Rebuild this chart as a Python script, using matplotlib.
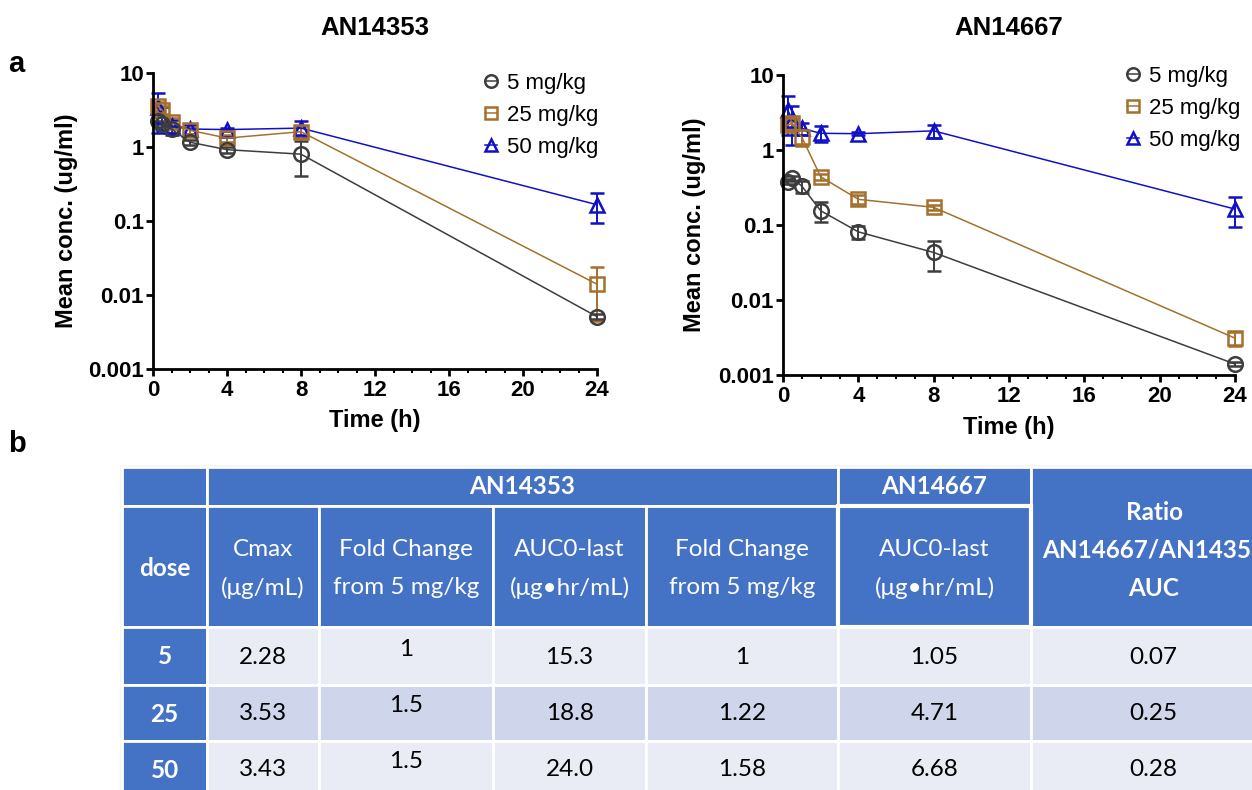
import numpy as np
import matplotlib
matplotlib.use('Agg')
import matplotlib.pyplot as plt
from matplotlib.lines import Line2D
from matplotlib.patches import Rectangle

plt.rcParams['font.family'] = ['Liberation Sans', 'DejaVu Sans']

# sampling times (h)
time_h = [0.25, 0.5, 1, 2, 4, 8, 24]
doses = ['5 mg/kg', '25 mg/kg', '50 mg/kg']

# AN14353 mean conc. (ug/ml) and SD
an14353_mean = {
    '5 mg/kg': [2.28, 2.04, 1.75, 1.16, 0.92, 0.80, 0.0051],
    '25 mg/kg': [3.53, 3.15, 2.15, 1.68, 1.32, 1.61, 0.014],
    '50 mg/kg': [3.43, 2.6, 1.9, 1.75, 1.72, 1.8, 0.166],
}
an14353_sd = {
    '5 mg/kg': [0.25, 0.2, 0.2, 0.1, 0.08, 0.4, 0.0004],
    '25 mg/kg': [0.5, 0.4, 0.3, 0.2, 0.15, 0.3, 0.0096],
    '50 mg/kg': [1.9, 0.9, 0.45, 0.25, 0.1, 0.45, 0.072],
}

# AN14667 mean conc. (ug/ml) and SD
an14667_mean = {
    '5 mg/kg': [0.38, 0.42, 0.33, 0.155, 0.081, 0.043, 0.0014],
    '25 mg/kg': [2.15, 2.27, 1.48, 0.44, 0.22, 0.172, 0.0031],
    '50 mg/kg': [3.42, 2.5, 1.94, 1.67, 1.65, 1.8, 0.163],
}
an14667_sd = {
    '5 mg/kg': [0.03, 0.03, 0.06, 0.045, 0.016, 0.019, 0.0001],
    '25 mg/kg': [0.3, 0.3, 0.35, 0.04, 0.03, 0.015, 0.0007],
    '50 mg/kg': [1.85, 1.35, 0.35, 0.4, 0.08, 0.35, 0.07],
}

colors = {'5 mg/kg': '#3d3d3d', '25 mg/kg': '#a5702c', '50 mg/kg': '#1010c8'}
markers = {'5 mg/kg': 'o', '25 mg/kg': 's', '50 mg/kg': '^'}

# table b
tab_dose = ['5', '25', '50']
tab_cmax = ['2.28', '3.53', '3.43']
tab_fold_cmax = ['1', '1.5', '1.5']
tab_auc_353 = ['15.3', '18.8', '24.0']
tab_fold_auc = ['1', '1.22', '1.58']
tab_auc_667 = ['1.05', '4.71', '6.68']
tab_ratio = ['0.07', '0.25', '0.28']

W, H = 1252, 790
fig = plt.figure(figsize=(W / 100, H / 100), dpi=100)


def rect(x0, x1, ytop, ybot):
    return [x0 / W, 1 - ybot / H, (x1 - x0) / W, (ybot - ytop) / H]


def draw_panel(ax, means, sds, title, title_x):
    for d in ['50 mg/kg', '25 mg/kg', '5 mg/kg']:
        c = colors[d]
        ms = 10 if markers[d] == 's' else 10.5
        eb = ax.errorbar(time_h, means[d], yerr=sds[d], color=c, marker=markers[d],
                         ms=ms, mfc='none', mec=c, mew=1.8, lw=1.1,
                         elinewidth=1.4, capsize=5, capthick=1.4)
        for art in eb.get_children():
            art.set_clip_on(False)
    ax.set_yscale('log')
    ax.set_ylim(0.001, 10)
    ax.set_xlim(0, 24)
    ax.set_xticks([0, 4, 8, 12, 16, 20, 24])
    ax.set_xticks(np.arange(0, 25, 1), minor=True)
    ax.set_yticks([0.001, 0.01, 0.1, 1, 10])
    ax.set_yticklabels(['0.001', '0.01', '0.1', '1', '10'])
    ax.yaxis.set_minor_locator(matplotlib.ticker.NullLocator())
    for s in ['top', 'right']:
        ax.spines[s].set_visible(False)
    ax.spines['left'].set_linewidth(2)
    ax.spines['bottom'].set_linewidth(2)
    ax.tick_params(which='major', length=5, width=2, labelsize=16)
    ax.tick_params(axis='y', pad=1.5)
    ax.tick_params(axis='x', pad=3)
    ax.tick_params(which='minor', length=3, width=1.5)
    for lab in ax.get_xticklabels() + ax.get_yticklabels():
        lab.set_fontweight('bold')
    ax.set_xlabel('Time (h)', fontsize=17, fontweight='bold')
    ax.set_ylabel('Mean conc. (ug/ml)', fontsize=17, fontweight='bold')
    ax.xaxis.label.set_va('center')
    ax.xaxis.set_label_coords(0.5, -0.175)
    ax.yaxis.set_label_coords(-0.17, 0.5)
    fig.text(title_x / W, 1 - 28 / H, title, ha='center', va='center',
             fontsize=18.5, fontweight='bold')


def add_legend(x, ytop):
    handles = [Line2D([0], [0], color=colors[d], marker=markers[d], ms=9,
                      mfc='none', mec=colors[d], mew=1.8, lw=1.1) for d in doses]
    fig.legend(handles, doses, loc='upper left', bbox_to_anchor=(x / W, 1 - ytop / H),
               frameon=False, fontsize=16, handlelength=0.55, handletextpad=0.45,
               labelspacing=0.5, borderpad=0, borderaxespad=0)


ax1 = fig.add_axes(rect(153, 597, 73, 369))
draw_panel(ax1, an14353_mean, an14353_sd, 'AN14353', 375)
add_legend(485, 73)

ax2 = fig.add_axes(rect(783, 1235, 75, 375))
draw_panel(ax2, an14667_mean, an14667_sd, 'AN14667', 1009)
add_legend(1127, 66)

fig.text(16 / W, 1 - 64 / H, 'a', ha='center', va='center', fontsize=21, fontweight='bold')
fig.text(17 / W, 1 - 444 / H, 'b', ha='center', va='center', fontsize=21, fontweight='bold')

# ---- table ----
tx = fig.add_axes([0, 0, 1, 1], zorder=-1)
tx.set_xlim(0, W)
tx.set_ylim(H, 0)
tx.axis('off')

blue = '#4472c4'
light = '#e9ebf5'
mid = '#cfd5ea'
tfont = ['Lato', 'DejaVu Sans']
fs = 17.5

col_x = [122, 207, 319, 493, 646, 838, 1031, 1276]
row_y = [467, 506, 627, 685, 741, 800]

tx.add_patch(Rectangle((121, 465.5), 1140, 340, fc='none', ec='#cccccc', lw=1))


def cell(x0, x1, y0, y1, fc, lw=2):
    tx.add_patch(Rectangle((x0, y0), x1 - x0, y1 - y0, fc=fc, ec='white', lw=lw))


def ctext(x, y, s, color='white', bold=False):
    tx.text(x, y, s, ha='center', va='center', fontsize=fs, color=color,
            fontweight='bold' if bold else 'normal', family=tfont)


# header row 1
cell(col_x[0], col_x[1], row_y[0], row_y[1], blue)
cell(col_x[1], col_x[5], row_y[0], row_y[1], blue)
cell(col_x[5], col_x[6], row_y[0], row_y[1], blue)
cell(col_x[6], col_x[7], row_y[0], row_y[2], blue)
ctext((col_x[1] + col_x[5]) / 2, 486, 'AN14353', bold=True)
ctext((col_x[5] + col_x[6]) / 2, 486, 'AN14667', bold=True)
ctext(1154, 512, 'Ratio', bold=True)
ctext(1154, 550, 'AN14667/AN14353', bold=True)
ctext(1154, 588, 'AUC', bold=True)

# header row 2
hdr = [('dose', None), ('Cmax', '(μg/mL)'), ('Fold Change', 'from 5 mg/kg'),
       ('AUC0-last', '(μg•hr/mL)'), ('Fold Change', 'from 5 mg/kg'),
       ('AUC0-last', '(μg•hr/mL)')]
for i, (l1, l2) in enumerate(hdr):
    x0, x1 = col_x[i], col_x[i + 1]
    cell(x0, x1, row_y[1], row_y[2], blue, lw=3 if i == 5 else 2)
    xc = (x0 + x1) / 2
    if l2 is None:
        ctext(xc, 568, l1, bold=True)
    else:
        ctext(xc, 550, l1)
        ctext(xc, 588, l2)

# body
cols = [tab_cmax, tab_fold_cmax, tab_auc_353, tab_fold_auc, tab_auc_667, tab_ratio]
for r in range(3):
    y0, y1 = row_y[r + 2], row_y[r + 3]
    yc = [657, 714, 770][r]
    bg = mid if r == 1 else light
    cell(col_x[0], col_x[1], y0, y1, blue)
    ctext((col_x[0] + col_x[1]) / 2, yc, tab_dose[r], bold=True)
    for j, vals in enumerate(cols):
        x0, x1 = col_x[j + 1], col_x[j + 2]
        cell(x0, x1, y0, y1, bg)
        yy = yc - 8 if j == 1 else yc
        ctext((x0 + x1) / 2, yy, vals[r], color='black')

fig.savefig('out.png', dpi=100)
